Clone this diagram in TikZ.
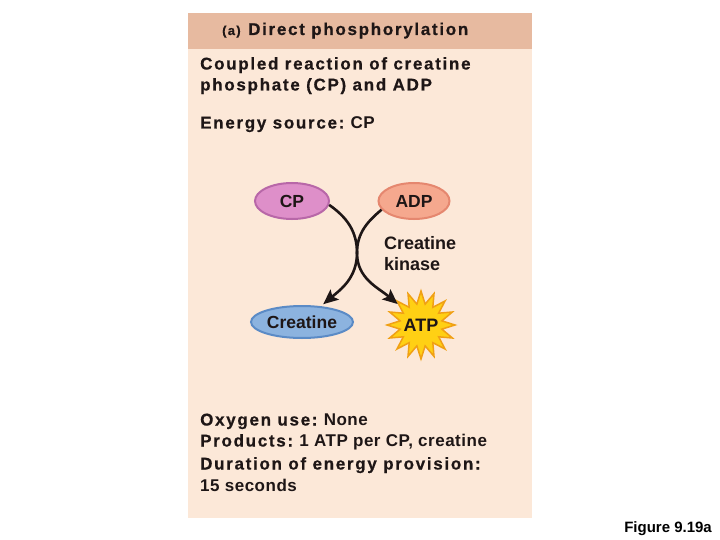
\documentclass[tikz,border=0pt]{standalone}
\usepackage{fontspec}
\setmainfont{Liberation Sans}
\usetikzlibrary{shapes.geometric,arrows.meta}
\newfontfamily\headfont[LetterSpace=10,FakeBold=0.6]{Liberation Sans}
\newfontfamily\valfont[LetterSpace=3]{Liberation Sans}
\definecolor{panel}{RGB}{252,232,216}
\definecolor{band}{RGB}{231,186,160}
\definecolor{cpfill}{RGB}{222,143,201}
\definecolor{cpline}{RGB}{184,103,168}
\definecolor{adpfill}{RGB}{245,168,142}
\definecolor{adpline}{RGB}{229,135,111}
\definecolor{crfill}{RGB}{140,179,223}
\definecolor{crline}{RGB}{91,139,198}
\definecolor{atpfill}{RGB}{255,208,20}
\definecolor{atpline}{RGB}{240,160,20}
\definecolor{ink}{RGB}{30,22,22}
\tikzset{
  txt/.style={anchor=base west,inner sep=0pt,font=\fontsize{17}{21}\selectfont\bfseries,text=ink},
  oval/.style={ellipse,draw,line width=2pt,font=\fontsize{17.5}{21}\selectfont\bfseries,text=ink,inner sep=0pt},
  conn/.style={draw=ink,line width=2.6pt,-{Stealth[length=15pt,width=13pt,inset=3pt]}}
}
\newcommand{\lab}[1]{{\headfont #1}}
\newcommand{\val}[1]{{\valfont #1}}
\begin{document}
\begin{tikzpicture}[x=1pt,y=-1pt]
\useasboundingbox (0,0) rectangle (720,540);
\fill[white] (0,0) rectangle (720,540);
\fill[panel] (188,13) rectangle (532,518);
\fill[band] (188,13) rectangle (532,49);
\node[txt] (a) at (222,35) {\fontsize{13}{15}\selectfont\headfont (a)};
\node[txt] (title) at (248,35) {\headfont Direct phosphorylation};
\node[txt] (c1) at (200,69.5) {\headfont Coupled reaction of creatine};
\node[txt] (c2) at (200,90.5) {\headfont phosphate (CP) and ADP};
\node[txt] (es) at (200,128.5) {\lab{Energy source:} \val{CP}};
\node[oval,fill=cpfill,draw=cpline,minimum width=74pt,minimum height=36pt] (cp) at (292,201) {CP};
\node[oval,fill=adpfill,draw=adpline,minimum width=71pt,minimum height=36pt] (adp) at (414,201) {ADP};
\node[oval,fill=crfill,draw=crline,minimum width=102pt,minimum height=32pt] (cr) at (302,322) {Creatine};
\node[star,star points=16,star point ratio=1.6,fill=atpfill,draw=atpline,line width=1.5pt,minimum size=68pt,inner sep=-9pt,font=\fontsize{18}{21}\selectfont\bfseries,text=ink] (atp) at (421,325) {ATP};
\node[txt,align=left,anchor=north west,font=\fontsize{18}{21}\selectfont\bfseries] (ck) at (384,236.5) {Creatine\\kinase};
\coordinate (mid) at (357,253);
\draw[conn] (cp.-6) to[out=-35,in=90] (mid) to[out=-90,in=140] (atp.138);
\draw[conn,shorten >=3pt] (adp.195) to[out=-140,in=90] (mid) to[out=-90,in=40] (cr.40);
\node[txt] (o) at (200,425.5) {\lab{Oxygen use:} \val{None}};
\node[txt] (p) at (200,446.5) {\lab{Products:} \val{1 ATP per CP, creatine}};
\node[txt] (d) at (200,469.5) {\lab{Duration of energy provision:}};
\node[txt] (s) at (200,491.5) {\val{15 seconds}};
\node[anchor=base east,inner sep=0pt,font=\fontsize{15}{17}\selectfont\bfseries,text=black] (fig) at (712,532) {Figure 9.19a};
\end{tikzpicture}
\end{document}
